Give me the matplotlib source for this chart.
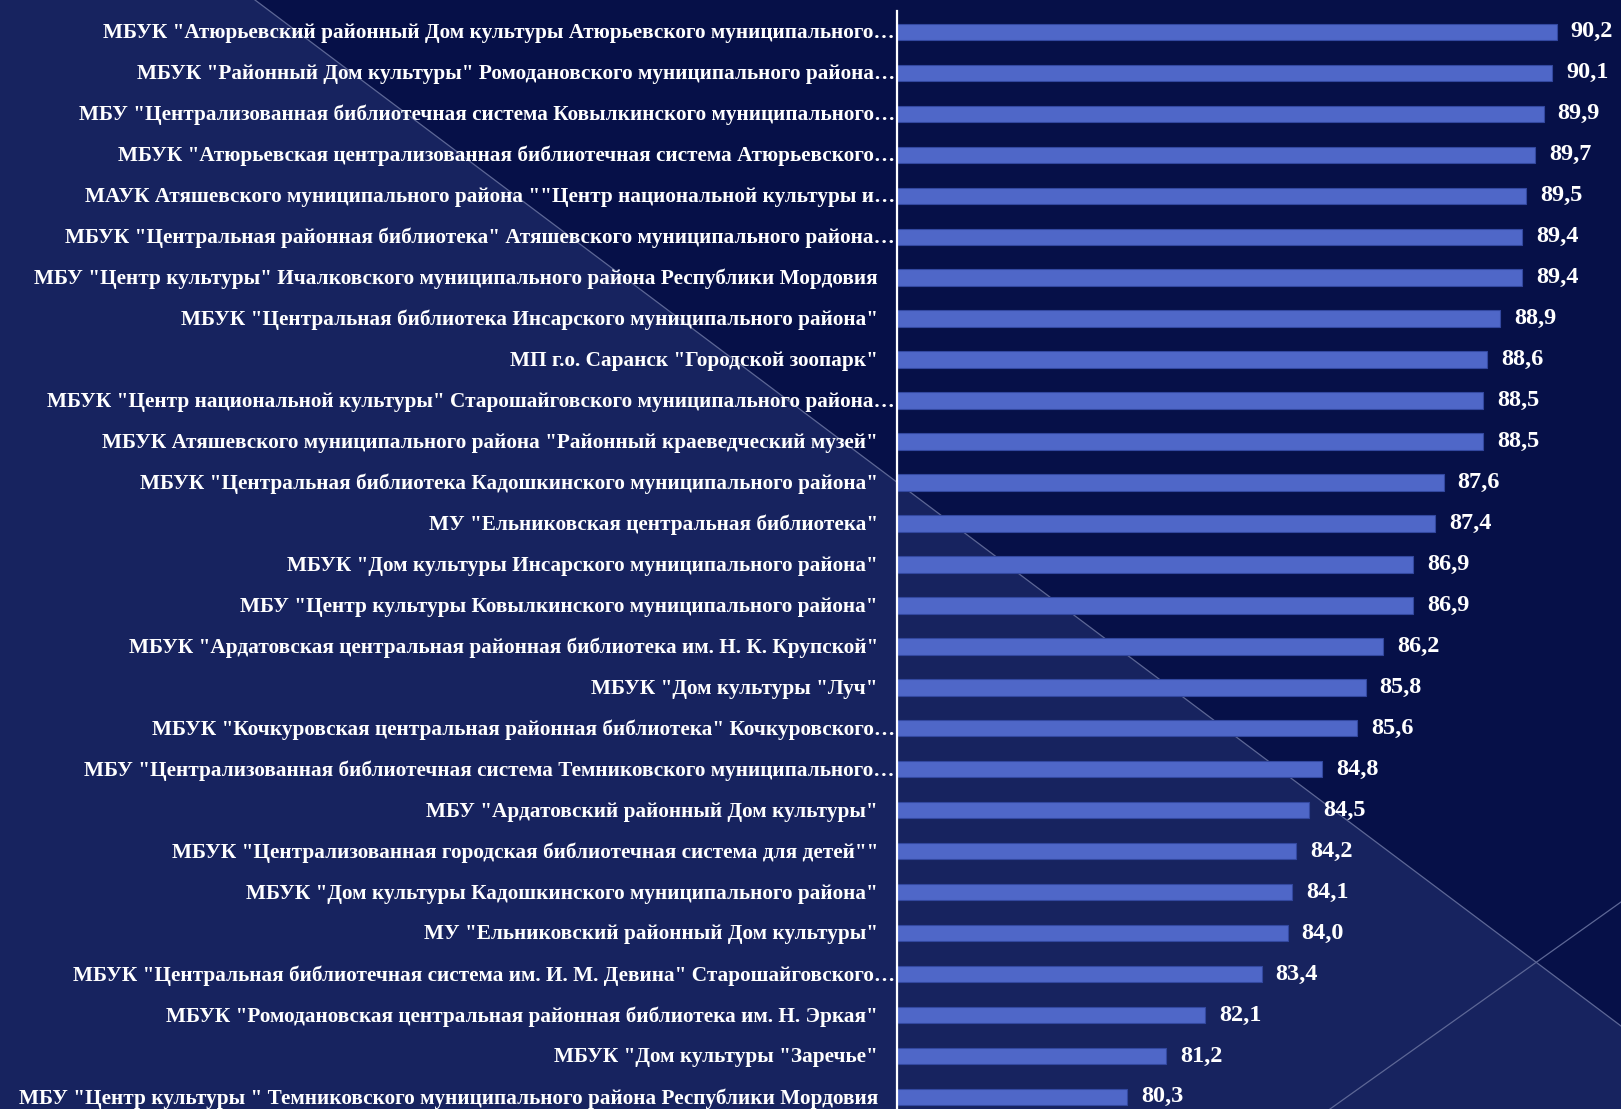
import numpy as np
import matplotlib
matplotlib.use("Agg")
import matplotlib.pyplot as plt
from matplotlib.patches import Polygon
from matplotlib.lines import Line2D

names = [
    'МБУК "Атюрьевский районный Дом культуры Атюрьевского муниципального…',
    'МБУК "Районный Дом культуры" Ромодановского муниципального района…',
    'МБУ "Централизованная библиотечная система Ковылкинского муниципального…',
    'МБУК "Атюрьевская централизованная библиотечная система Атюрьевского…',
    'МАУК Атяшевского муниципального района ""Центр национальной культуры и…',
    'МБУК "Центральная районная библиотека" Атяшевского муниципального района…',
    'МБУ "Центр культуры" Ичалковского муниципального района Республики Мордовия',
    'МБУК "Центральная библиотека Инсарского муниципального района"',
    'МП г.о. Саранск "Городской зоопарк"',
    'МБУК "Центр национальной культуры" Старошайговского муниципального района…',
    'МБУК Атяшевского муниципального района "Районный краеведческий музей"',
    'МБУК "Центральная библиотека Кадошкинского муниципального района"',
    'МУ "Ельниковская центральная библиотека"',
    'МБУК "Дом культуры Инсарского муниципального района"',
    'МБУ "Центр культуры Ковылкинского муниципального района"',
    'МБУК "Ардатовская центральная районная библиотека им. Н. К. Крупской"',
    'МБУК "Дом культуры "Луч"',
    'МБУК "Кочкуровская центральная районная библиотека" Кочкуровского…',
    'МБУ "Централизованная библиотечная система Темниковского муниципального…',
    'МБУ "Ардатовский районный Дом культуры"',
    'МБУК "Централизованная городская библиотечная система для детей""',
    'МБУК "Дом культуры Кадошкинского муниципального района"',
    'МУ "Ельниковский районный Дом культуры"',
    'МБУК "Центральная библиотечная система им. И. М. Девина" Старошайговского…',
    'МБУК "Ромодановская центральная районная библиотека им. Н. Эркая"',
    'МБУК "Дом культуры "Заречье"',
    'МБУ "Центр культуры " Темниковского муниципального района Республики Мордовия',
]
values = [90.2, 90.1, 89.9, 89.7, 89.5, 89.4, 89.4, 88.9, 88.6, 88.5, 88.5, 87.6,
          87.4, 86.9, 86.9, 86.2, 85.8, 85.6, 84.8, 84.5, 84.2, 84.1, 84.0, 83.4,
          82.1, 81.2, 80.3]

W, H = 1621, 1109
fig = plt.figure(figsize=(W / 100, H / 100), dpi=100)
fig.patch.set_facecolor('#061048')

# background: lighter diagonal region + thin lines
def fp(x, y):
    return (x / W, 1 - y / H)

light = Polygon([fp(0, 0), fp(255, 0), fp(1621, 1026), fp(1621, 1109), fp(0, 1109)],
                closed=True, transform=fig.transFigure, facecolor='#17235f',
                edgecolor='none', zorder=-10)
fig.patches.append(light)
for (x0, y0), (x1, y1) in [((255, 0), (1621, 1026)), ((1621, 902), (1330, 1109))]:
    a, b = fp(x0, y0), fp(x1, y1)
    fig.lines.append(Line2D([a[0], b[0]], [a[1], b[1]], transform=fig.transFigure,
                            color='#5d6796', lw=0.9, zorder=-9))

ax = fig.add_axes([897 / W, -0.0076, 1 - 897 / W, 0.9973])
ax.set_facecolor('none')

y = np.arange(len(values))
bars = ax.barh(y, values, height=0.40, color='#4f67c8', edgecolor='#3348a0',
               linewidth=0.8)
ax.set_xlim(75, 75 + (W - 897) / 43.4)
ax.set_ylim(len(values) - 0.5, -0.5)

ax.bar_label(bars, labels=[f'{v:.1f}'.replace('.', ',') for v in values],
             padding=10, color='white', fontsize=17.5, fontweight='bold',
             family='Liberation Serif')

ax.set_yticks([])
ax.set_xticks([])
for s in ['top', 'right', 'bottom']:
    ax.spines[s].set_visible(False)
ax.spines['left'].set_color('white')
ax.spines['left'].set_linewidth(1.6)

# category labels; truncated ones run up to the axis line
for i, name in enumerate(names):
    off = -2 if name.endswith('…') else -19
    ax.annotate(name, xy=(0, i), xycoords=('axes fraction', 'data'),
                xytext=(off * 0.72, -1), textcoords='offset points',
                ha='right', va='center', color='white', fontsize=15.3,
                fontweight='bold', family='Liberation Serif')

fig.savefig('out.png', dpi=100, facecolor=fig.get_facecolor())
